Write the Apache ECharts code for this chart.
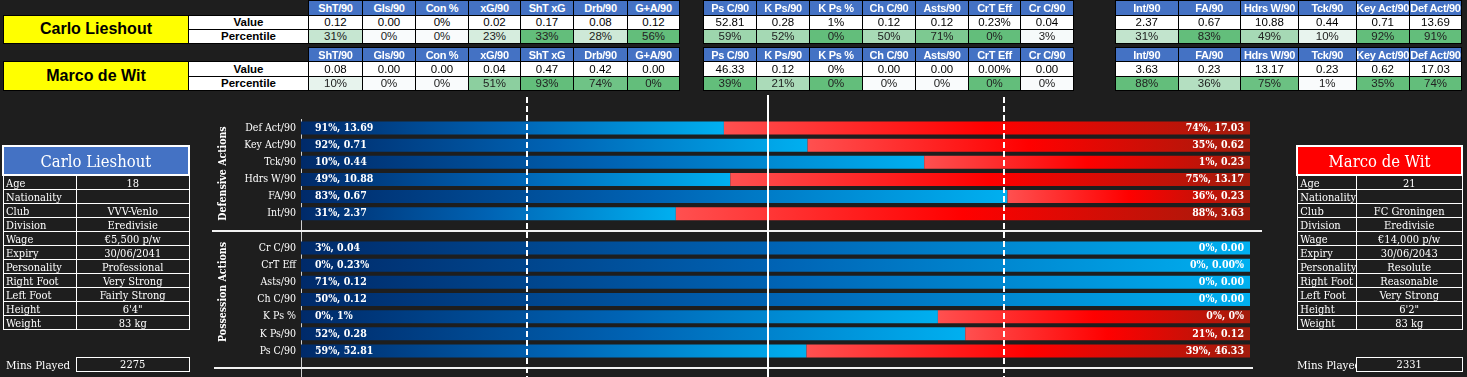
<!DOCTYPE html>
<html><head><meta charset="utf-8">
<script src="https://cdn.jsdelivr.net/npm/echarts@6/dist/echarts.min.js"></script>
<style>
html,body{margin:0;padding:0;background:#1e1e1e;width:1467px;height:377px;overflow:hidden;}
#chart{position:absolute;left:0;top:0;width:1467px;height:377px;}
#ov{position:absolute;left:0;top:0;width:1467px;height:377px;pointer-events:none;}
.c{position:absolute;box-sizing:border-box;display:flex;align-items:center;justify-content:center;white-space:nowrap;overflow:hidden;}
.sans{font-family:"Liberation Sans Narrow","Liberation Sans",Arial,sans-serif;font-size:11.5px;color:#000;}
.serif{font-family:"DejaVu Serif Condensed","DejaVu Serif",serif;font-size:11px;color:#fff;}
</style></head><body>
<div id="chart"></div>
<div id="ov"></div>
<script>
// ---------------- DATA ----------------
const categories = ['Def Act/90','Key Act/90','Tck/90','Hdrs W/90','FA/90','Int/90','',
  'Cr C/90','CrT Eff','Asts/90','Ch C/90','K Ps %','K Ps/90','Ps C/90',''];
const carloPct   = [91,92,10,49,83,31,null,3,0,71,50,0,52,59,null];
const carloLabel = ['13.69','0.71','0.44','10.88','0.67','2.37',null,'0.04','0.23%','0.12','0.12','1%','0.28','52.81',null];
const carloBar   = [13.69,0.71,0.44,10.88,0.67,2.37,null,0.04,0.23,0.12,0.12,1.0,0.28,52.81,null];
const marcoPct   = [74,35,1,75,36,88,null,0,0,0,0,0,21,39,null];
const marcoLabel = ['17.03','0.62','0.23','13.17','0.23','3.63',null,'0.00','0.00%','0.00','0.00','0%','0.12','46.33',null];
const marcoBar   = [17.03,0.62,0.23,13.17,0.23,3.63,null,0,0,0,0,0.49,0.12,46.33,null];
const refLines   = [0.2384,0.4916,0.7405];

const group1Headers = ['ShT/90','Gls/90','Con %','xG/90','ShT xG','Drb/90','G+A/90'];
const carloG1Val = ['0.12','0.00','0%','0.02','0.17','0.08','0.12'];
const carloG1Pct = [31,0,0,23,33,28,56];
const marcoG1Val = ['0.08','0.00','0.00','0.04','0.47','0.42','0.00'];
const marcoG1Pct = [10,0,0,51,93,74,0];
const group2Headers = ['Ps C/90','K Ps/90','K Ps %','Ch C/90','Asts/90','CrT Eff','Cr C/90'];
const carloG2Val = ['52.81','0.28','1%','0.12','0.12','0.23%','0.04'];
const carloG2Pct = [59,52,0,50,71,0,3];
const marcoG2Val = ['46.33','0.12','0%','0.00','0.00','0.00%','0.00'];
const marcoG2Pct = [39,21,0,0,0,0,0];
const group3Headers = ['Int/90','FA/90','Hdrs W/90','Tck/90','Key Act/90','Def Act/90'];
const carloG3Val = ['2.37','0.67','10.88','0.44','0.71','13.69'];
const carloG3Pct = [31,83,49,10,92,91];
const marcoG3Val = ['3.63','0.23','13.17','0.23','0.62','17.03'];
const marcoG3Pct = [88,36,75,1,35,74];
// conditional-format intensity of each percentile cell (0 = white, 1 = full green)
const carloG1Shade = [0.35,0.02,0.02,0.25,1,0.3,1];
const carloG2Shade = [0.62,0.57,1,0.55,0.83,1,0.04];
const carloG3Shade = [0.38,1,0.56,0.13,1,1];
const marcoG1Shade = [0.14,0.02,0.02,0.73,1,0.92,1];
const marcoG2Shade = [1,0.53,1,0.02,0.02,1,0.02];
const marcoG3Shade = [1,0.47,0.95,0.02,1,1];

const infoLabels = ['Age','Nationality','Club','Division','Wage','Expiry','Personality','Right Foot','Left Foot','Height','Weight'];
const carloInfo = ['18','','VVV-Venlo','Eredivisie','€5,500 p/w','30/06/2041','Professional','Very Strong','Fairly Strong','6\'4"','83 kg'];
const marcoInfo = ['21','','FC Groningen','Eredivisie','€14,000 p/w','30/06/2043','Resolute','Reasonable','Very Strong','6\'2"','83 kg'];
const carloName = 'Carlo Lieshout', marcoName = 'Marco de Wit';
const carloMins = '2275', marcoMins = '2331';

// ---------------- LAYOUT / HTML TABLES ----------------
const ov = document.getElementById('ov');
function box(x,y,w,h,cls,text,style){
  const d=document.createElement('div'); d.className='c '+(cls||'');
  d.style.left=x+'px'; d.style.top=y+'px'; d.style.width=w+'px'; d.style.height=h+'px';
  if(style) Object.assign(d.style,style);
  if(text!==undefined) d.textContent=text;
  ov.appendChild(d); return d;
}
function mix(t){ // white -> #63be7b
  const a=[252,252,255], b=[99,190,123];
  return 'rgb('+a.map((v,i)=>Math.round(v+(b[i]-v)*t)).join(',')+')';
}
function statGroup(cols, rows, headers, vals, pcts, shades){
  const x0=cols[0], x1=cols[cols.length-1];
  box(x0-0.5,rows[0],x1-x0+1.5,rows[3]-rows[0]+1,'',undefined,{background:'#000'});
  for(let i=0;i<headers.length;i++){
    const x=cols[i]+1, w=cols[i+1]-cols[i]-1;
    box(x,rows[0]+1,w,rows[1]-rows[0]-1,'sans',headers[i],{background:'#4472c4',color:'#fff',fontWeight:'bold',fontSize:'11px',letterSpacing:'-0.3px'});
    box(x,rows[1]+1,w,rows[2]-rows[1]-1,'sans',vals[i],{background:'#fff'});
    box(x,rows[2]+1,w,rows[3]-rows[2]-1,'sans',pcts[i]+'%',{background:mix(shades[i]),color:'#222'});
  }
}
function playerHead(rows, name){
  box(2.5,rows[1],306,rows[3]-rows[1]+1,'',undefined,{background:'#000'});
  box(4,rows[1]+1,184,rows[3]-rows[1]-1,'sans',name,{background:'#ffff00',fontWeight:'bold',fontSize:'16px'});
  box(189,rows[1]+1,119,rows[2]-rows[1]-1,'sans','Value',{background:'#fff',fontWeight:'bold'});
  box(189,rows[2]+1,119,rows[3]-rows[2]-1,'sans','Percentile',{background:'#fff',fontWeight:'bold'});
}
const g1=[308,362,415,468,520,573,627,679];
const g2=[703,756,809,862,915,968,1020,1073];
const g3=[1115,1177.5,1240,1298,1355.5,1409,1461];
const rowsC=[0,14.5,28.5,42.5], rowsM=[47,61,75.5,89.5];
playerHead(rowsC,carloName); playerHead(rowsM,marcoName);
statGroup(g1,rowsC,group1Headers,carloG1Val,carloG1Pct,carloG1Shade);
statGroup(g2,rowsC,group2Headers,carloG2Val,carloG2Pct,carloG2Shade);
statGroup(g3,rowsC,group3Headers,carloG3Val,carloG3Pct,carloG3Shade);
statGroup(g1,rowsM,group1Headers,marcoG1Val,marcoG1Pct,marcoG1Shade);
statGroup(g2,rowsM,group2Headers,marcoG2Val,marcoG2Pct,marcoG2Shade);
statGroup(g3,rowsM,group3Headers,marcoG3Val,marcoG3Pct,marcoG3Shade);

function infoTable(xL, xM, xR, name, color, info, mins, minsLabelX){
  const top=175, rh=14.03, n=infoLabels.length;
  box(xL-1,145,xR-xL+2,31,'',undefined,{background:'#fff'});
  box(xL+1,147,xR-xL-2,27,'serif',name,{background:color,fontSize:'16.5px',paddingTop:'1px'});
  box(xL,top,xR-xL+1,rh*n+1,'',undefined,{background:'#fff'});
  for(let i=0;i<n;i++){
    const y=top+1+i*rh;
    box(xL+1,y,xM-xL-1,rh-1,'serif',infoLabels[i],{background:'#1e1e1e',justifyContent:'flex-start',paddingLeft:'2px',paddingTop:'2px',overflow:'visible'});
    box(xM+1,y,xR-xM-1,rh-1,'serif',info[i],{background:'#1e1e1e',paddingTop:'1px'});
  }
  box(minsLabelX,357,120,15,'serif','Mins Played',{justifyContent:'flex-start',paddingTop:'1px',fontSize:'11.5px'});
  box(xM,357,xR-xM+1,15,'serif',mins,{border:'1px solid #fff',background:'#1e1e1e'});
}
infoTable(3,75.7,188.7,carloName,'#4472c4',carloInfo,carloMins,6);
infoTable(1297.3,1355.7,1461.7,marcoName,'#ff0000',marcoInfo,marcoMins,1297);

// ---------------- ECHARTS BAR CHART ----------------
const SERIF='"DejaVu Serif Condensed","DejaVu Serif",serif';
const chart=echarts.init(document.getElementById('chart'),null,{renderer:'canvas'});
const blueData=[], redData=[], fullData=[];
for(let i=0;i<categories.length;i++){
  if(carloBar[i]===null){blueData.push('-');redData.push('-');fullData.push('-');continue;}
  const s=carloBar[i]+marcoBar[i];
  blueData.push(carloBar[i]/s); redData.push(marcoBar[i]/s); fullData.push(1);
}
const blueGrad=new echarts.graphic.LinearGradient(0,0,1,0,[
  {offset:0,color:'#002a69'},{offset:0.5,color:'#0063b4'},{offset:1,color:'#00b0f0'}]);
const redGrad=new echarts.graphic.LinearGradient(0,0,1,0,[
  {offset:0,color:'#ff5050'},{offset:0.5,color:'#ff0000'},{offset:1,color:'#a21c0c'}]);
const labelStyle={color:'#fff',fontFamily:SERIF,fontWeight:'bold',fontSize:10.5};
chart.setOption({
  animation:false,
  backgroundColor:'transparent',
  grid:{left:301,right:217,top:119.4,height:257.3,containLabel:false},
  xAxis:{type:'value',min:0,max:1,show:false},
  yAxis:{type:'category',inverse:true,data:categories,
    axisLine:{show:true,lineStyle:{color:'#d0d0d0',width:1}},
    axisTick:{show:false},splitLine:{show:false},
    axisLabel:{color:'#fff',fontFamily:SERIF,fontSize:10.5,margin:5}},
  series:[
    {name:'Carlo',type:'bar',stack:'p',data:blueData,barWidth:13,barGap:'-100%',
     itemStyle:{color:blueGrad},
     label:{show:true,position:'insideLeft',distance:14,...labelStyle,
       formatter:p=>carloPct[p.dataIndex]+'%, '+carloLabel[p.dataIndex]}},
    {name:'Marco',type:'bar',stack:'p',data:redData,barWidth:13,barGap:'-100%',
     itemStyle:{color:redGrad}},
    {name:'MarcoLabel',type:'bar',data:fullData,barWidth:13,barGap:'-100%',silent:true,
     itemStyle:{color:'rgba(0,0,0,0)'},
     label:{show:true,position:'insideRight',distance:6,...labelStyle,
       formatter:p=>marcoPct[p.dataIndex]+'%, '+marcoLabel[p.dataIndex]}}
  ]
});
const px=(x,y)=>chart.convertToPixel({gridIndex:0},[x,y]);
const ySep1=px(0,6)[1], ySep2=px(0,14)[1];
const els=[
  {type:'line',shape:{x1:212,y1:ySep1,x2:1262,y2:ySep1},style:{stroke:'#f2f2f2',lineWidth:2},z:50},
  {type:'line',shape:{x1:214,y1:ySep2,x2:1253,y2:ySep2},style:{stroke:'#f2f2f2',lineWidth:2},z:50},
  {type:'text',x:223,y:173.5,rotation:Math.PI/2,style:{text:'Defensive Actions',fill:'#fff',font:'bold 10.5px '+SERIF,align:'center',verticalAlign:'middle'},z:50},
  {type:'text',x:223,y:292,rotation:Math.PI/2,style:{text:'Possession Actions',fill:'#fff',font:'bold 10.5px '+SERIF,align:'center',verticalAlign:'middle'},z:50}
];
refLines.forEach((v,i)=>{
  const x=Math.round(px(v,0)[0]);
  els.push({type:'line',shape:{x1:x,y1:i===1?95:97,x2:x,y2:377},
    style:{stroke:'#ffffff',lineWidth:2,lineDash:i===1?null:[6,3]},z:60});
});
chart.setOption({graphic:{elements:els}});
</script>
</body></html>
